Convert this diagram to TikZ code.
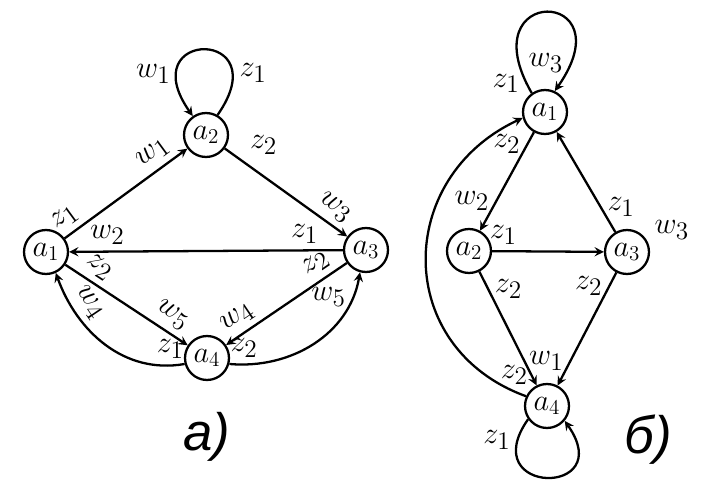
\documentclass[tikz,border=0pt]{standalone}
\usepackage{fontspec}
\newfontfamily\capfont{Liberation Sans}
\begin{document}
\begin{tikzpicture}[x=0.02cm,y=0.02cm,font=\fontsize{19}{20}\selectfont]
        \tikzstyle{stateNode}=[draw,circle,line width=1.3pt,minimum size=0.88cm,inner sep=0pt,font=\LARGE]
        \tikzstyle{transition}=[-stealth, line width=1.3pt]
    \useasboundingbox (0,0) rectangle (721,484);

    % a)
    \node[stateNode] (a1) at (46, 232) {$a_1$};
    \node[stateNode] (a2) at (206, 349) {$a_2$};
    \node[stateNode] (a3) at (366, 234) {$a_3$};
    \node[stateNode] (a4) at (207, 126) {$a_4$};

    \draw[transition] (a2.60) to[out=55,in=125,looseness=11] node [pos=0.2, right] {$z_1$} node [pos=0.8, left] {$w_1$} (a2.125);
    \draw[transition] (a1) -- node [pos=0.08, sloped, above] {$z_1$} node [pos=0.8, sloped, above] {$w_1$} (a2);
    \draw[transition] (a2) -- node [pos=0.15, above right] {$z_2$} node [pos=0.82, sloped, above] {$w_3$} (a3);
    \draw[transition] (a3) -- node [pos=0.14, above] {$z_1$} node [pos=0.86, above] {$w_2$} (a1);
    \draw[transition] (a1) -- node [pos=0.2, sloped, above] {$z_2$} node [pos=0.8, sloped, above] {$w_5$} (a4);
    \draw[transition] (a3) -- node [pos=0.18, sloped, above] {$z_2$} node [pos=0.83, sloped, above] {$w_4$} (a4);
    \draw[transition] (a4.195) to[out=190,in=-70] node [pos=0.08, above] {$z_1$} node [pos=0.76, sloped, above] {$w_4$} (a1.-65);
    \draw[transition] (a4.-15) to[out=-5,in=-100] node [pos=0.08, above] {$z_2$} node [pos=0.86, left] {$w_5$} (a3.-105);

    \node (capA) at (207, 47) {\capfont\itshape\fontsize{30}{32}\selectfont а)};

    % b)
    \node[stateNode] (b1) at (545, 372) {$a_1$};
    \node[stateNode] (b2) at (469, 233) {$a_2$};
    \node[stateNode] (b3) at (627, 232) {$a_3$};
    \node[stateNode] (b4) at (547, 78) {$a_4$};

    \draw[transition] (b1.125) to[out=120,in=55,looseness=14] node [pos=0.03, left] {$z_1$} node [pos=0.9, left] {$w_3$} (b1.65);
    \draw[transition] (b4.215) to[out=235,in=-55,looseness=6.5] node [pos=0.1, left] {$z_1$} (b4.-40);
    \draw[transition] (b1) -- node [pos=0.12, left] {$z_2$} node [pos=0.7, left] {$w_2$} (b2);
    \draw[transition] (b3) -- node [pos=0.25, right] {$z_1$} (b1);
    \draw[transition] (b2) -- node [pos=0.1, above] {$z_1$} (b3);
    \draw[transition] (b2) -- node [pos=0.15, right] {$z_2$} (b4);
    \draw[transition] (b3) -- node [pos=0.12, left] {$z_2$} node [pos=0.78, left] {$w_1$} (b4);
    \draw[transition] (b4.155) to[out=160,in=205,looseness=1.3] node [pos=0.03, above] {$z_2$} (b1.195);
    \node (w3) at (672, 254) {$w_3$};

    \node (capB) at (648, 44) {\capfont\itshape\fontsize{30}{32}\selectfont б)};
\end{tikzpicture}
\end{document}
